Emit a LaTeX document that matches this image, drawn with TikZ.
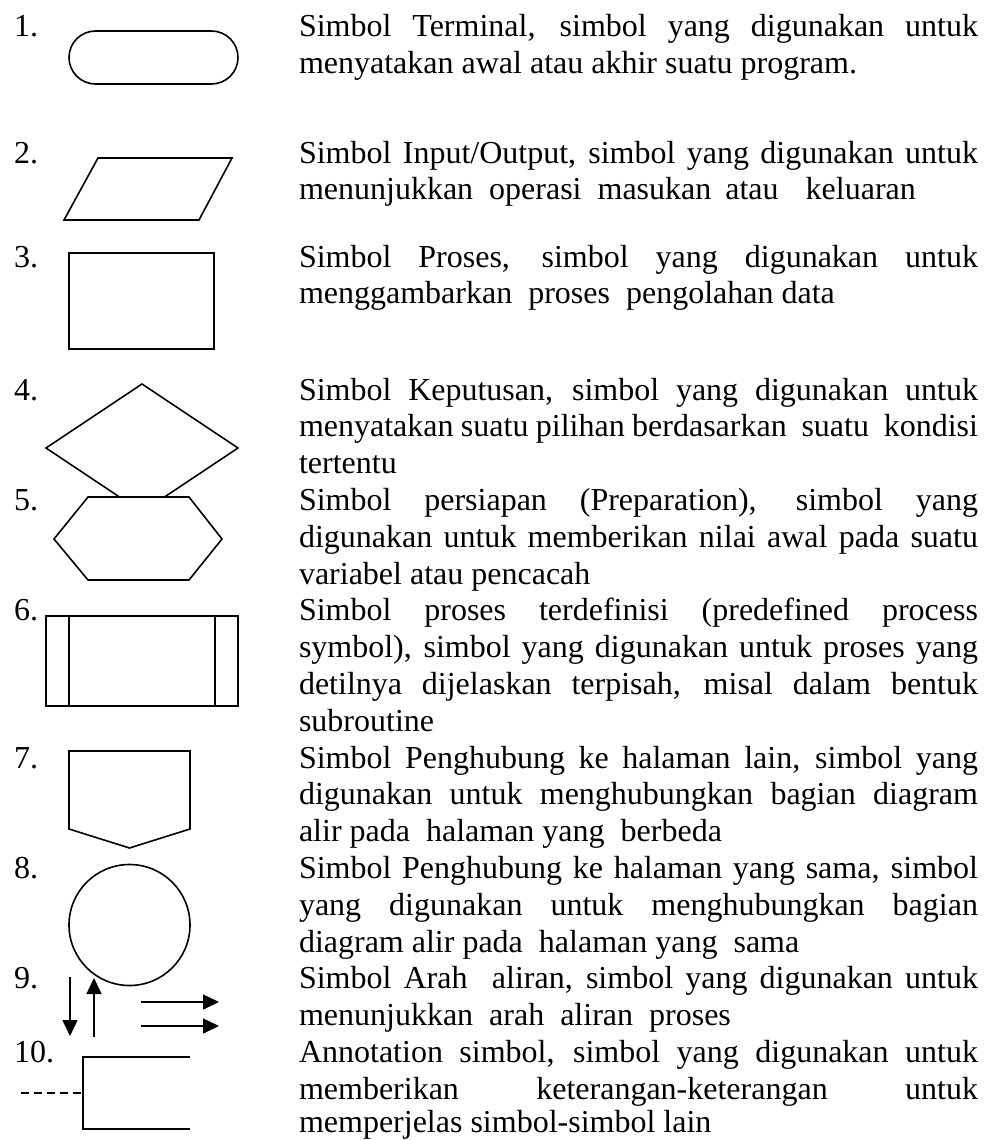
\documentclass[tikz,border=0pt]{standalone}
\usepackage{fontspec}
\setmainfont{Liberation Serif}
\usetikzlibrary{arrows.meta}
\tikzset{
  sym/.style={draw=black, line width=1.6pt, line join=miter},
  txt/.style={anchor=base west, inner sep=0pt, outer sep=0pt, font=\fontsize{32}{36.8}\selectfont},
  num/.style={anchor=base west, inner sep=0pt, outer sep=0pt, font=\fontsize{32}{36.8}\selectfont},
  flow/.style={line width=1.6pt, -{Triangle[length=16pt,width=15pt]}},
}
\newcommand{\J}[1]{\makebox[679pt][s]{#1}}
\begin{document}
\begin{tikzpicture}[x=1pt,y=-1pt]
\useasboundingbox (0,0) rectangle (1000,1140);

% ---------- numbers ----------
\node[num] (n1) at (14,37) {1.};
\node[num] (n2) at (14,163) {2.};
\node[num] (n3) at (14,267) {3.};
\node[num] (n4) at (14,400) {4.};
\node[num] (n5) at (14,510.4) {5.};
\node[num] (n6) at (14,620.8) {6.};
\node[num] (n7) at (14,768) {7.};
\node[num] (n8) at (14,878.4) {8.};
\node[num] (n9) at (14,988.8) {9.};
\node[num] (n10) at (14,1062.4) {10.};

% ---------- texts ----------
\node[txt] (t1a) at (299,37) {\J{Simbol Terminal, simbol yang digunakan untuk}};
\node[txt] (t1b) at (299,73.8) {menyatakan awal atau akhir suatu program.};

\node[txt] (t2a) at (299,163) {\J{Simbol Input/Output, simbol yang digunakan untuk}};
\node[txt] (t2b) at (299,199.8) {menunjukkan\hspace{16pt}operasi\hspace{16pt}masukan\hspace{14pt}atau\hspace{27pt}keluaran};

\node[txt] (t3a) at (299,267) {\J{Simbol Proses, simbol yang digunakan untuk}};
\node[txt] (t3b) at (299,303.8) {menggambarkan\ \ proses\ \ pengolahan data};

\node[txt] (t4a) at (299,400) {\J{Simbol Keputusan, simbol yang digunakan untuk}};
\node[txt] (t4b) at (299,436.8) {\J{menyatakan suatu pilihan berdasarkan\ \ suatu\ \ kondisi}};
\node[txt] (t4c) at (299,473.6) {tertentu};

\node[txt] (t5a) at (299,510.4) {\J{Simbol persiapan (Preparation), simbol yang}};
\node[txt] (t5b) at (299,547.2) {\J{digunakan untuk memberikan nilai awal pada suatu}};
\node[txt] (t5c) at (299,584) {variabel atau pencacah};

\node[txt] (t6a) at (299,620.8) {\J{Simbol proses terdefinisi (predefined process}};
\node[txt] (t6b) at (299,657.6) {\J{symbol), simbol yang digunakan untuk proses yang}};
\node[txt] (t6c) at (299,694.4) {\J{detilnya dijelaskan terpisah, misal dalam bentuk}};
\node[txt] (t6d) at (299,731.2) {subroutine};

\node[txt] (t7a) at (299,768) {\J{Simbol Penghubung ke halaman lain, simbol yang}};
\node[txt] (t7b) at (299,804.8) {\J{digunakan untuk menghubungkan bagian diagram}};
\node[txt] (t7c) at (299,841.6) {alir pada\ \ halaman yang\ \ berbeda};

\node[txt] (t8a) at (299,878.4) {\J{Simbol Penghubung ke halaman yang sama, simbol}};
\node[txt] (t8b) at (299,915.2) {\J{yang digunakan untuk menghubungkan bagian}};
\node[txt] (t8c) at (299,952) {diagram alir pada\ \ halaman yang\ \ sama};

\node[txt] (t9a) at (299,988.8) {\J{Simbol Arah\ \ aliran, simbol yang digunakan untuk}};
\node[txt] (t9b) at (299,1025.6) {menunjukkan\ \ arah\ \ aliran\ \ proses};

\node[txt] (t10a) at (299,1062.4) {\J{Annotation simbol, simbol yang digunakan untuk}};
\node[txt] (t10b) at (299,1099.2) {\J{memberikan keterangan-keterangan untuk}};
\node[txt] (t10c) at (299,1132.5) {memperjelas simbol-simbol lain};

% ---------- symbols ----------
% 1 terminal
\draw[sym, rounded corners=26.5pt] (69,31) rectangle (238,84);
% 2 input/output
\draw[sym] (98,158) -- (232,158) -- (199,220) -- (64,220) -- cycle;
% 3 process
\draw[sym] (69,253) rectangle (214,349);
% 4 decision
\draw[sym] (142,384) -- (238,448) -- (142,512) -- (46,448) -- cycle;
% 5 preparation (drawn over the diamond)
\draw[sym, fill=white] (88,497) -- (189,497) -- (222,539) -- (189,580) -- (88,580) -- (54,539) -- cycle;
% 6 predefined process
\draw[sym] (46,616) rectangle (238,706);
\draw[sym] (69,616) -- (69,706);
\draw[sym] (215,616) -- (215,706);
% 7 off-page connector
\draw[sym] (69,751) -- (190,751) -- (190,829) -- (129.5,848) -- (69,829) -- cycle;
% 8 on-page connector
\draw[sym] (129.5,925) circle[radius=60.5pt];
% 9 flow arrows
\coordinate (d1) at (70,977);
\coordinate (d2) at (70,1036);
\coordinate (u1) at (94,1037);
\coordinate (u2) at (94,978);
\coordinate (r1) at (141,1002);
\coordinate (r2) at (219,1002);
\coordinate (s1) at (141,1026);
\coordinate (s2) at (219,1026);
\draw[flow] (d1) -- (d2);
\draw[flow] (u1) -- (u2);
\draw[flow] (r1) -- (r2);
\draw[flow] (s1) -- (s2);
% 10 annotation
\coordinate (a0) at (21,1093);
\coordinate (a1) at (83,1093);
\draw[sym] (190,1057) -- (83,1057) -- (83,1129) -- (190,1129);
\draw[line width=1.4pt, dash pattern=on 8pt off 5pt] (a0) -- (a1);
\end{tikzpicture}
\end{document}
